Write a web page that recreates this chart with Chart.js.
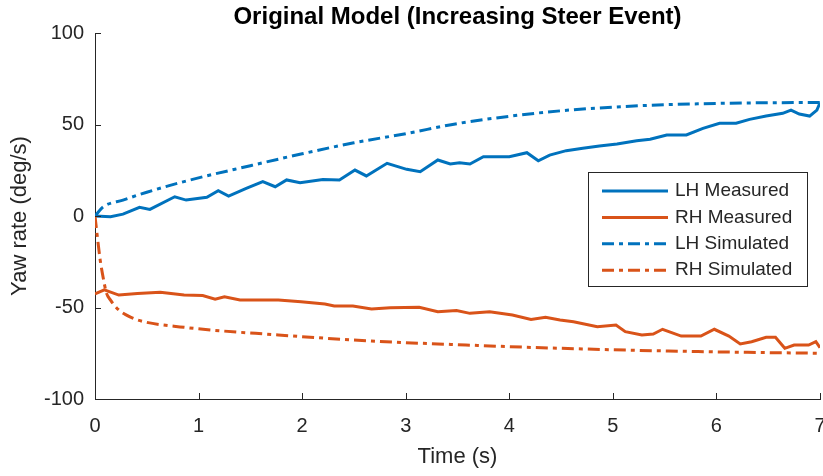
<!DOCTYPE html>
<html>
<head>
<meta charset="utf-8">
<script src="https://cdn.jsdelivr.net/npm/chart.js@4.4.1/dist/chart.umd.min.js"></script>
<style>
  html, body { margin: 0; padding: 0; background: #fff; }
</style>
</head>
<body>
<canvas id="myChart" width="823" height="476"></canvas>
<script>
// values (time in s, yaw rate in deg/s)
const lhMeasuredTime = [0, 0.15, 0.27, 0.43, 0.53, 0.77, 0.88, 1.08, 1.19, 1.29, 1.46, 1.62, 1.74, 1.85, 1.98, 2.2, 2.36, 2.51, 2.62, 2.82, 3.01, 3.14, 3.31, 3.43, 3.52, 3.62, 3.75, 4.0, 4.17, 4.28, 4.39, 4.55, 4.71, 4.87, 5.04, 5.23, 5.36, 5.52, 5.71, 5.87, 6.03, 6.19, 6.32, 6.48, 6.64, 6.72, 6.8, 6.9, 6.97, 7.0];
const lhMeasured = [0, -0.4, 1, 4.7, 3.6, 10.5, 8.7, 10.2, 13.8, 10.9, 15.1, 18.8, 16, 19.7, 18.2, 20, 19.7, 25.1, 21.9, 28.8, 25.5, 24.2, 30.6, 28.4, 29.1, 28.4, 32.4, 32.4, 34.6, 30.2, 33.3, 35.7, 37, 38.3, 39.3, 41.1, 41.9, 44.3, 44.3, 47.9, 50.7, 50.7, 52.8, 54.6, 56.1, 57.9, 55.7, 54.6, 57.9, 61.9];

const rhMeasuredTime = [0, 0.09, 0.23, 0.41, 0.63, 0.86, 1.04, 1.16, 1.25, 1.4, 1.77, 1.99, 2.22, 2.31, 2.49, 2.67, 2.85, 3.13, 3.31, 3.49, 3.62, 3.81, 4.03, 4.21, 4.35, 4.49, 4.62, 4.85, 5.03, 5.12, 5.28, 5.39, 5.48, 5.66, 5.85, 5.98, 6.12, 6.23, 6.34, 6.48, 6.57, 6.66, 6.75, 6.89, 6.96, 7.0];
const rhMeasured = [-42.6, -40.4, -43.2, -42.3, -41.7, -43.2, -43.5, -45.5, -44.1, -45.9, -45.9, -46.8, -48.1, -49.2, -49.2, -50.8, -50.1, -49.9, -52.3, -51.7, -53.2, -52.3, -54.1, -56.5, -55.4, -56.8, -57.8, -60.5, -59.6, -63.2, -65, -64.5, -61.9, -65.6, -65.6, -61.9, -65.6, -69.9, -68.7, -66.3, -66.3, -72.3, -70.5, -70.5, -68.7, -72];

const lhSimulatedTime = [0, 0.08, 0.27, 0.5, 0.92, 1.5, 2, 2.5, 3, 3.5, 4, 4.5, 5, 5.5, 6, 6.5, 7];
const lhSimulated = [0, 5, 8.7, 13, 19.7, 27.5, 34, 40, 45, 50.5, 54.5, 57.5, 59.5, 60.8, 61.5, 61.9, 62];

const rhSimulatedTime = [0, 0.02, 0.05, 0.08, 0.11, 0.15, 0.23, 0.3, 0.41, 0.86, 1.77, 2.67, 3.58, 4.49, 5.39, 6.3, 7];
const rhSimulated = [0, -10, -24, -34, -42, -46, -51.4, -54, -56.8, -60.8, -65, -68.3, -70.5, -72.3, -73.6, -74.5, -75];

const xTicks = [0, 1, 2, 3, 4, 5, 6, 7];
const yTicks = [-100, -50, 0, 50, 100];

const blue = '#0072BD';
const orange = '#D95319';
const axisColor = '#262626';
const fontFamily = '"Liberation Sans", Arial, Helvetica, sans-serif';
const dashDot = [12, 5, 4, 5];

const toPoints = (ts, vs) => ts.map((t, i) => ({ x: t, y: vs[i] }));

// inward MATLAB style ticks + title
const inwardTicks = {
  id: 'inwardTicks',
  afterDraw(chart) {
    const { ctx, chartArea, scales } = chart;
    ctx.save();
    ctx.strokeStyle = axisColor;
    ctx.lineWidth = 1;
    ctx.beginPath();
    xTicks.forEach((t) => {
      const px = Math.round(scales.x.getPixelForValue(t)) + 0.5;
      ctx.moveTo(px, chartArea.bottom);
      ctx.lineTo(px, chartArea.bottom - 6);
    });
    yTicks.forEach((v) => {
      const py = Math.round(scales.y.getPixelForValue(v)) + 0.5;
      ctx.moveTo(chartArea.left, py);
      ctx.lineTo(chartArea.left + 6, py);
    });
    ctx.stroke();

    ctx.fillStyle = '#000';
    ctx.font = 'bold 24px ' + fontFamily;
    ctx.textAlign = 'center';
    ctx.textBaseline = 'middle';
    ctx.fillText('Original Model (Increasing Steer Event)', (chartArea.left + chartArea.right) / 2, 17);
    ctx.restore();
  }
};

// legend box inside the axes, upper right
const boxLegend = {
  id: 'boxLegend',
  afterDraw(chart) {
    const { ctx } = chart;
    const left = 588.5, top = 172.5, width = 219, height = 114;
    ctx.save();
    ctx.fillStyle = '#fff';
    ctx.fillRect(left, top, width, height);
    ctx.strokeStyle = axisColor;
    ctx.lineWidth = 1;
    ctx.strokeRect(left, top, width, height);
    ctx.font = '19px ' + fontFamily;
    ctx.textAlign = 'left';
    ctx.textBaseline = 'middle';
    chart.data.datasets.forEach((ds, i) => {
      const y = 191 + i * 26.4;
      ctx.beginPath();
      ctx.strokeStyle = ds.borderColor;
      ctx.lineWidth = ds.borderWidth;
      ctx.setLineDash(ds.borderDash || []);
      ctx.moveTo(602, y);
      ctx.lineTo(668, y);
      ctx.stroke();
      ctx.setLineDash([]);
      ctx.fillStyle = axisColor;
      ctx.fillText(ds.label, 675, y);
    });
    ctx.restore();
  }
};

const ctx = document.getElementById('myChart').getContext('2d');
const myChart = new Chart(ctx, {
  type: 'line',
  data: {
    datasets: [
      {
        label: 'LH Measured',
        data: toPoints(lhMeasuredTime, lhMeasured),
        borderColor: blue,
        borderWidth: 3,
        order: 4,
      },
      {
        label: 'RH Measured',
        data: toPoints(rhMeasuredTime, rhMeasured),
        borderColor: orange,
        borderWidth: 3,
        order: 3,
      },
      {
        label: 'LH Simulated',
        data: toPoints(lhSimulatedTime, lhSimulated),
        borderColor: blue,
        borderWidth: 3,
        borderDash: dashDot,
        cubicInterpolationMode: 'monotone',
        order: 2,
      },
      {
        label: 'RH Simulated',
        data: toPoints(rhSimulatedTime, rhSimulated),
        borderColor: orange,
        borderWidth: 3,
        borderDash: dashDot,
        cubicInterpolationMode: 'monotone',
        order: 1,
      }
    ]
  },
  options: {
    responsive: false,
    animation: false,
    elements: { point: { radius: 0 }, line: { fill: false } },
    layout: { padding: { left: 0, right: 3, top: 33, bottom: 0 } },
    plugins: {
      legend: { display: false },
      tooltip: { enabled: false },
    },
    scales: {
      x: {
        type: 'linear',
        min: 0,
        max: 7,
        afterBuildTicks: (scale) => { scale.ticks = xTicks.map((v) => ({ value: v })); },
        ticks: { color: axisColor, font: { family: fontFamily, size: 20 }, padding: 15, maxRotation: 0 },
        grid: { display: false, drawTicks: false },
        border: { display: true, color: axisColor, width: 1 },
        title: { display: true, text: 'Time (s)', color: axisColor, font: { family: fontFamily, size: 22 }, padding: { top: 0, bottom: 6 } },
        afterFit: (scale) => { scale.height = 77; scale.paddingLeft = 0; scale.paddingRight = 0; },
      },
      y: {
        min: -100,
        max: 100,
        afterBuildTicks: (scale) => { scale.ticks = yTicks.map((v) => ({ value: v })); },
        ticks: { color: axisColor, font: { family: fontFamily, size: 20 }, padding: 11 },
        grid: { display: false, drawTicks: false },
        border: { display: true, color: axisColor, width: 1 },
        title: { display: true, text: 'Yaw rate (deg/s)', color: axisColor, font: { family: fontFamily, size: 22 }, padding: { top: 7, bottom: 0 } },
        afterFit: (scale) => { scale.width = 95; scale.paddingTop = 0; scale.paddingBottom = 0; },
      }
    }
  },
  plugins: [inwardTicks, boxLegend]
});
</script>
</body>
</html>
